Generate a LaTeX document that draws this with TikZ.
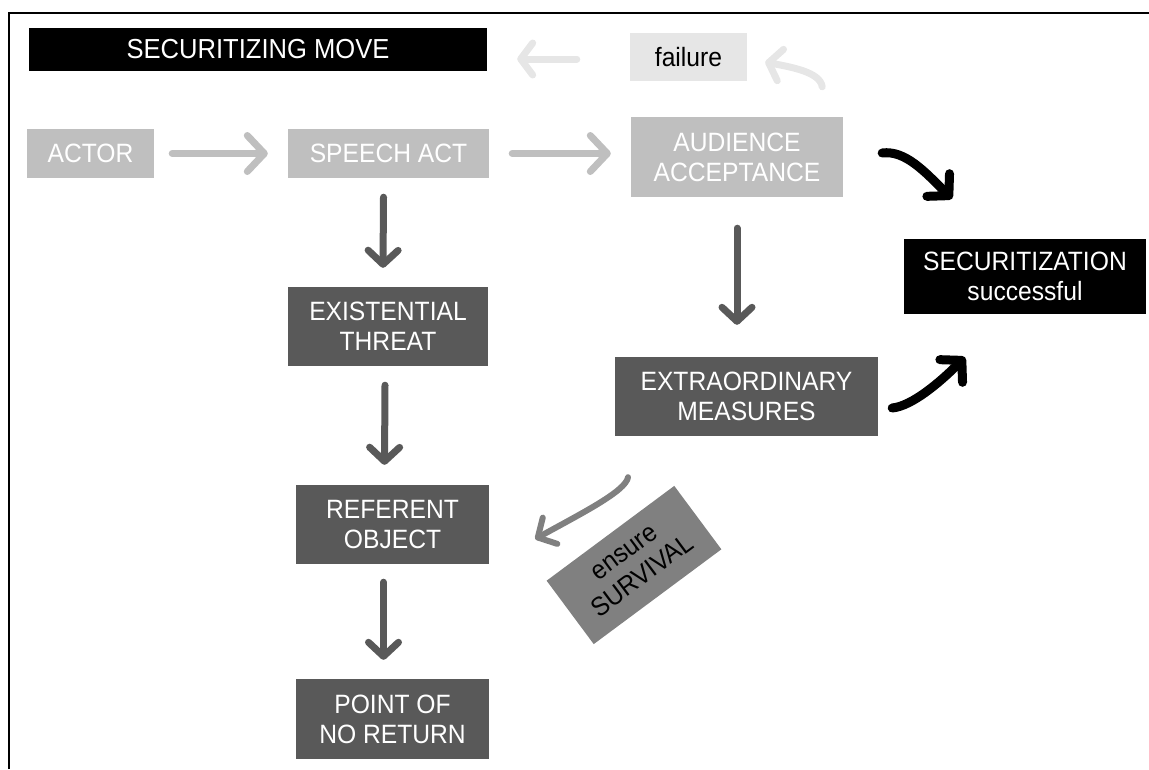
\documentclass[tikz,border=0pt]{standalone}
\usepackage{fontspec}
\setmainfont{Liberation Sans}[FakeStretch=0.93]
\usepackage{tikz}
\usetikzlibrary{arrows.meta,positioning,calc}

\definecolor{paleGray}{HTML}{E6E6E6}
\definecolor{lightGray}{HTML}{BFBFBF}
\definecolor{midGray}{HTML}{808080}
\definecolor{darkGray}{HTML}{595959}

\tikzset{
  box/.style={inner sep=0pt, align=center, font=\fontsize{26.5}{30}\selectfont},
  lightbox/.style={box, fill=lightGray, text=white},
  darkbox/.style={box, fill=darkGray, text=white},
  blackbox/.style={box, fill=black, text=white},
  palearrow/.style={draw=paleGray, line width=7pt, line cap=round, -{Straight Barb[length=12pt,width=32pt,round]}},
  lightarrow/.style={draw=lightGray, line width=7pt, line cap=round, -{Straight Barb[length=17pt,width=36pt,round]}},
  darkarrow/.style={draw=darkGray, line width=7pt, line cap=round, -{Straight Barb[length=14pt,width=30pt,round]}},
  midarrow/.style={draw=midGray, line width=6pt, line cap=round, -{Straight Barb[length=14pt,width=30pt,round]}},
  blackarrow/.style={draw=black, line width=9pt, line cap=round, -{Straight Barb[length=15pt,width=32pt,round]}},
}

\begin{document}
\begin{tikzpicture}[x=1pt,y=-1pt]
\useasboundingbox (0,0) rectangle (1149,769);
\draw[line width=2.5pt] (9,769) -- (9,13) -- (1149,13);

\node[blackbox, font=\fontsize{27.5}{30}\selectfont, minimum width=458pt, minimum height=43pt] (move) at (258,49.5) {SECURITIZING MOVE};
\node[box, fill=paleGray, minimum width=117pt, minimum height=48pt] (failure) at (688.5,57) {failure};
\node[lightbox, minimum width=127pt, minimum height=49pt] (actor) at (90.5,153.5) {ACTOR};
\node[lightbox, minimum width=201pt, minimum height=49pt] (speech) at (388.5,153.5) {SPEECH ACT};
\node[lightbox, minimum width=212pt, minimum height=80pt] (audience) at (737,157) {AUDIENCE\\ACCEPTANCE};
\node[blackbox, minimum width=242pt, minimum height=75pt] (success) at (1025,276.5) {SECURITIZATION\\successful};
\node[darkbox, minimum width=200pt, minimum height=79pt] (threat) at (388,326.5) {EXISTENTIAL\\THREAT};
\node[darkbox, minimum width=263pt, minimum height=79pt] (measures) at (746.5,396.5) {EXTRAORDINARY\\MEASURES};
\node[darkbox, minimum width=193pt, minimum height=79pt] (referent) at (392.5,524.5) {REFERENT\\OBJECT};
\node[darkbox, minimum width=193pt, minimum height=80pt] (noreturn) at (392.5,719) {POINT OF\\NO RETURN};
\node[box, fill=midGray, rotate=36.6, minimum width=159pt, minimum height=79pt] (survival) at (634,565) {ensure\\SURVIVAL};

\draw[palearrow] ($(failure.west)+(-53,2)$) -- ($(move.east)+(30,9.5)$);
\draw[palearrow] ($(audience.north east)+(-21,-30)$) .. controls +(-2,-15) and +(25,5) .. ($(failure.east)+(18,5)$);
\draw[lightarrow] ($(actor.east)+(18,0)$) -- ($(speech.west)+(-20,0)$);
\draw[lightarrow] ($(speech.east)+(23,0)$) -- ($(audience.west |- speech.east)+(-20,0)$);
\draw[darkarrow] ($(speech.south)+(-5,19)$) -- ($(threat.north)+(-5,-19)$);
\draw[darkarrow] ($(threat.south)+(-3,19)$) -- ($(referent.north)+(-8,-20)$);
\draw[darkarrow] ($(referent.south)+(-9,18)$) -- ($(noreturn.north)+(-9,-19)$);
\draw[darkarrow] ($(audience.south)+(0,31)$) -- ($(measures.north)+(-9.5,-32)$);
\draw[blackarrow] ($(audience.east)+(39,-4)$) .. controls +(23,-3) and +(-27,-27) .. ($(success.north)+(-73,-40)$);
\draw[blackarrow] ($(measures.east)+(14,11.5)$) .. controls +(20,-2) and +(-25,25) .. ($(success.south)+(-60,43)$);
\draw[midarrow] ($(measures.south)+(-118.5,41)$) .. controls +(-2,14) and +(45,-25) .. ($(referent.east)+(46,14.5)$);
\end{tikzpicture}
\end{document}
